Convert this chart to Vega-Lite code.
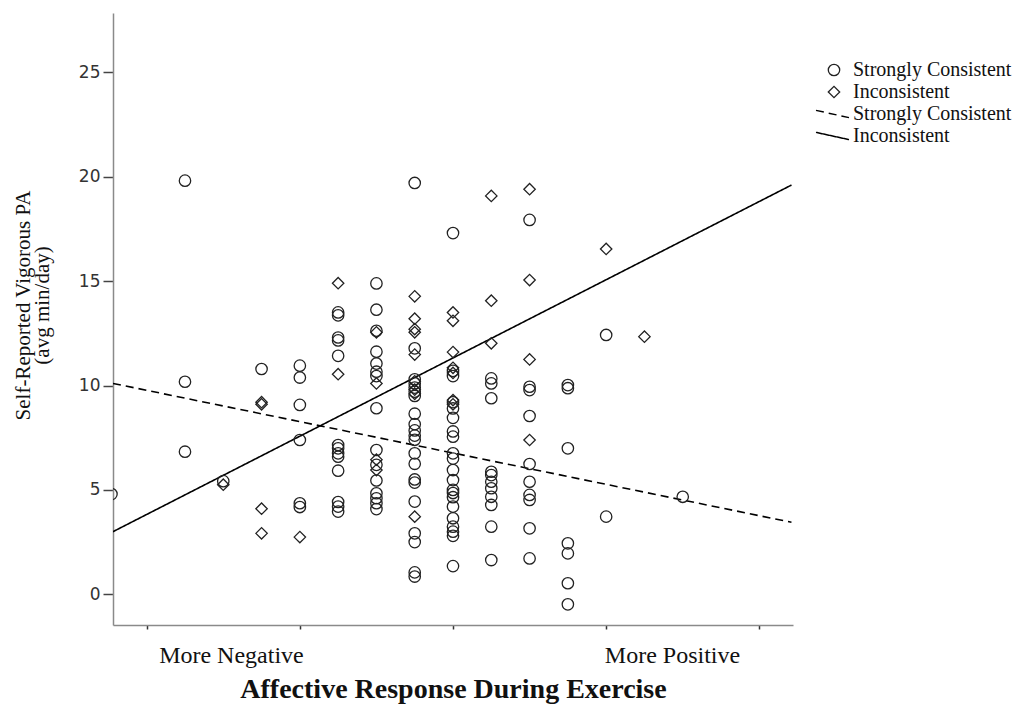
{
  "$schema": "https://vega.github.io/schema/vega-lite/v6.json",
  "width": 680,
  "height": 612,
  "autosize": {"type": "none"},
  "padding": {"left": 113, "top": 13, "right": 228, "bottom": 80},
  "background": "white",
  "config": {"view": {"stroke": null}, "axis": {"grid": false}},
  "datasets": {
    "fits": [
      {"x": -2.22, "y": 10.1, "fit": "Strongly Consistent"},
      {"x": 2.21, "y": 3.45, "fit": "Strongly Consistent"},
      {"x": -2.22, "y": 3.0, "fit": "Inconsistent"},
      {"x": 2.21, "y": 19.6, "fit": "Inconsistent"}
    ],
    "pts": [
      {"x": -2.23, "y": 4.8, "group": "Strongly Consistent"},
      {"x": -1.75, "y": 19.81, "group": "Strongly Consistent"},
      {"x": -1.75, "y": 10.18, "group": "Strongly Consistent"},
      {"x": -1.75, "y": 6.83, "group": "Strongly Consistent"},
      {"x": -1.5, "y": 5.42, "group": "Strongly Consistent"},
      {"x": -1.5, "y": 5.25, "group": "Inconsistent"},
      {"x": -1.25, "y": 10.79, "group": "Strongly Consistent"},
      {"x": -1.25, "y": 9.2, "group": "Inconsistent"},
      {"x": -1.25, "y": 9.1, "group": "Inconsistent"},
      {"x": -1.25, "y": 4.1, "group": "Inconsistent"},
      {"x": -1.25, "y": 2.92, "group": "Inconsistent"},
      {"x": -1.0, "y": 10.95, "group": "Strongly Consistent"},
      {"x": -1.0, "y": 10.38, "group": "Strongly Consistent"},
      {"x": -1.0, "y": 9.07, "group": "Strongly Consistent"},
      {"x": -1.0, "y": 7.39, "group": "Strongly Consistent"},
      {"x": -1.0, "y": 4.36, "group": "Strongly Consistent"},
      {"x": -1.0, "y": 4.18, "group": "Strongly Consistent"},
      {"x": -1.0, "y": 2.74, "group": "Inconsistent"},
      {"x": -0.75, "y": 14.9, "group": "Inconsistent"},
      {"x": -0.75, "y": 13.5, "group": "Strongly Consistent"},
      {"x": -0.75, "y": 13.36, "group": "Strongly Consistent"},
      {"x": -0.75, "y": 12.3, "group": "Strongly Consistent"},
      {"x": -0.75, "y": 12.16, "group": "Strongly Consistent"},
      {"x": -0.75, "y": 11.42, "group": "Strongly Consistent"},
      {"x": -0.75, "y": 10.54, "group": "Inconsistent"},
      {"x": -0.75, "y": 7.15, "group": "Strongly Consistent"},
      {"x": -0.75, "y": 6.99, "group": "Strongly Consistent"},
      {"x": -0.75, "y": 6.75, "group": "Strongly Consistent"},
      {"x": -0.75, "y": 6.59, "group": "Strongly Consistent"},
      {"x": -0.75, "y": 5.92, "group": "Strongly Consistent"},
      {"x": -0.75, "y": 4.42, "group": "Strongly Consistent"},
      {"x": -0.75, "y": 4.2, "group": "Strongly Consistent"},
      {"x": -0.75, "y": 3.96, "group": "Strongly Consistent"},
      {"x": -0.5, "y": 14.89, "group": "Strongly Consistent"},
      {"x": -0.5, "y": 13.63, "group": "Strongly Consistent"},
      {"x": -0.5, "y": 12.62, "group": "Strongly Consistent"},
      {"x": -0.5, "y": 12.55, "group": "Inconsistent"},
      {"x": -0.5, "y": 11.62, "group": "Strongly Consistent"},
      {"x": -0.5, "y": 11.05, "group": "Strongly Consistent"},
      {"x": -0.5, "y": 10.66, "group": "Strongly Consistent"},
      {"x": -0.5, "y": 10.45, "group": "Strongly Consistent"},
      {"x": -0.5, "y": 10.1, "group": "Inconsistent"},
      {"x": -0.5, "y": 8.91, "group": "Strongly Consistent"},
      {"x": -0.5, "y": 6.91, "group": "Strongly Consistent"},
      {"x": -0.5, "y": 6.45, "group": "Inconsistent"},
      {"x": -0.5, "y": 6.2, "group": "Strongly Consistent"},
      {"x": -0.5, "y": 5.95, "group": "Inconsistent"},
      {"x": -0.5, "y": 5.45, "group": "Strongly Consistent"},
      {"x": -0.5, "y": 4.84, "group": "Strongly Consistent"},
      {"x": -0.5, "y": 4.6, "group": "Strongly Consistent"},
      {"x": -0.5, "y": 4.36, "group": "Strongly Consistent"},
      {"x": -0.5, "y": 4.08, "group": "Strongly Consistent"},
      {"x": -0.25, "y": 19.7, "group": "Strongly Consistent"},
      {"x": -0.25, "y": 14.27, "group": "Inconsistent"},
      {"x": -0.25, "y": 13.2, "group": "Inconsistent"},
      {"x": -0.25, "y": 12.7, "group": "Inconsistent"},
      {"x": -0.25, "y": 12.55, "group": "Inconsistent"},
      {"x": -0.25, "y": 11.78, "group": "Strongly Consistent"},
      {"x": -0.25, "y": 11.48, "group": "Inconsistent"},
      {"x": -0.25, "y": 10.3, "group": "Strongly Consistent"},
      {"x": -0.25, "y": 10.2, "group": "Inconsistent"},
      {"x": -0.25, "y": 10.1, "group": "Strongly Consistent"},
      {"x": -0.25, "y": 9.9, "group": "Strongly Consistent"},
      {"x": -0.25, "y": 9.8, "group": "Inconsistent"},
      {"x": -0.25, "y": 9.7, "group": "Strongly Consistent"},
      {"x": -0.25, "y": 9.6, "group": "Inconsistent"},
      {"x": -0.25, "y": 9.5, "group": "Strongly Consistent"},
      {"x": -0.25, "y": 8.65, "group": "Strongly Consistent"},
      {"x": -0.25, "y": 8.15, "group": "Strongly Consistent"},
      {"x": -0.25, "y": 7.85, "group": "Strongly Consistent"},
      {"x": -0.25, "y": 7.6, "group": "Strongly Consistent"},
      {"x": -0.25, "y": 7.4, "group": "Strongly Consistent"},
      {"x": -0.25, "y": 6.75, "group": "Strongly Consistent"},
      {"x": -0.25, "y": 6.25, "group": "Strongly Consistent"},
      {"x": -0.25, "y": 5.5, "group": "Strongly Consistent"},
      {"x": -0.25, "y": 5.35, "group": "Strongly Consistent"},
      {"x": -0.25, "y": 4.44, "group": "Strongly Consistent"},
      {"x": -0.25, "y": 3.72, "group": "Inconsistent"},
      {"x": -0.25, "y": 2.92, "group": "Strongly Consistent"},
      {"x": -0.25, "y": 2.5, "group": "Strongly Consistent"},
      {"x": -0.25, "y": 1.05, "group": "Strongly Consistent"},
      {"x": -0.25, "y": 0.85, "group": "Strongly Consistent"},
      {"x": 0.0, "y": 17.3, "group": "Strongly Consistent"},
      {"x": 0.0, "y": 13.5, "group": "Inconsistent"},
      {"x": 0.0, "y": 13.1, "group": "Inconsistent"},
      {"x": 0.0, "y": 11.6, "group": "Inconsistent"},
      {"x": 0.0, "y": 10.85, "group": "Inconsistent"},
      {"x": 0.0, "y": 10.7, "group": "Strongly Consistent"},
      {"x": 0.0, "y": 10.6, "group": "Inconsistent"},
      {"x": 0.0, "y": 10.45, "group": "Strongly Consistent"},
      {"x": 0.0, "y": 9.3, "group": "Inconsistent"},
      {"x": 0.0, "y": 9.2, "group": "Strongly Consistent"},
      {"x": 0.0, "y": 9.1, "group": "Inconsistent"},
      {"x": 0.0, "y": 8.9, "group": "Strongly Consistent"},
      {"x": 0.0, "y": 8.45, "group": "Strongly Consistent"},
      {"x": 0.0, "y": 7.8, "group": "Strongly Consistent"},
      {"x": 0.0, "y": 7.55, "group": "Strongly Consistent"},
      {"x": 0.0, "y": 6.75, "group": "Strongly Consistent"},
      {"x": 0.0, "y": 6.5, "group": "Strongly Consistent"},
      {"x": 0.0, "y": 5.95, "group": "Strongly Consistent"},
      {"x": 0.0, "y": 5.47, "group": "Strongly Consistent"},
      {"x": 0.0, "y": 5.0, "group": "Strongly Consistent"},
      {"x": 0.0, "y": 4.85, "group": "Strongly Consistent"},
      {"x": 0.0, "y": 4.65, "group": "Strongly Consistent"},
      {"x": 0.0, "y": 4.2, "group": "Strongly Consistent"},
      {"x": 0.0, "y": 3.64, "group": "Strongly Consistent"},
      {"x": 0.0, "y": 3.24, "group": "Strongly Consistent"},
      {"x": 0.0, "y": 3.0, "group": "Strongly Consistent"},
      {"x": 0.0, "y": 2.8, "group": "Strongly Consistent"},
      {"x": 0.0, "y": 1.35, "group": "Strongly Consistent"},
      {"x": 0.25, "y": 19.08, "group": "Inconsistent"},
      {"x": 0.25, "y": 14.06, "group": "Inconsistent"},
      {"x": 0.25, "y": 12.02, "group": "Inconsistent"},
      {"x": 0.25, "y": 10.34, "group": "Strongly Consistent"},
      {"x": 0.25, "y": 10.1, "group": "Strongly Consistent"},
      {"x": 0.25, "y": 9.39, "group": "Strongly Consistent"},
      {"x": 0.25, "y": 5.87, "group": "Strongly Consistent"},
      {"x": 0.25, "y": 5.71, "group": "Strongly Consistent"},
      {"x": 0.25, "y": 5.39, "group": "Strongly Consistent"},
      {"x": 0.25, "y": 5.08, "group": "Strongly Consistent"},
      {"x": 0.25, "y": 4.67, "group": "Strongly Consistent"},
      {"x": 0.25, "y": 4.28, "group": "Strongly Consistent"},
      {"x": 0.25, "y": 3.24, "group": "Strongly Consistent"},
      {"x": 0.25, "y": 1.64, "group": "Strongly Consistent"},
      {"x": 0.5, "y": 19.4, "group": "Inconsistent"},
      {"x": 0.5, "y": 17.93, "group": "Strongly Consistent"},
      {"x": 0.5, "y": 15.05, "group": "Inconsistent"},
      {"x": 0.5, "y": 11.25, "group": "Inconsistent"},
      {"x": 0.5, "y": 9.94, "group": "Strongly Consistent"},
      {"x": 0.5, "y": 9.78, "group": "Strongly Consistent"},
      {"x": 0.5, "y": 8.54, "group": "Strongly Consistent"},
      {"x": 0.5, "y": 7.39, "group": "Inconsistent"},
      {"x": 0.5, "y": 6.24, "group": "Strongly Consistent"},
      {"x": 0.5, "y": 5.39, "group": "Strongly Consistent"},
      {"x": 0.5, "y": 4.76, "group": "Strongly Consistent"},
      {"x": 0.5, "y": 4.52, "group": "Strongly Consistent"},
      {"x": 0.5, "y": 3.16, "group": "Strongly Consistent"},
      {"x": 0.5, "y": 1.72, "group": "Strongly Consistent"},
      {"x": 0.75, "y": 10.02, "group": "Strongly Consistent"},
      {"x": 0.75, "y": 9.87, "group": "Strongly Consistent"},
      {"x": 0.75, "y": 6.99, "group": "Strongly Consistent"},
      {"x": 0.75, "y": 2.44, "group": "Strongly Consistent"},
      {"x": 0.75, "y": 1.96, "group": "Strongly Consistent"},
      {"x": 0.75, "y": 0.53, "group": "Strongly Consistent"},
      {"x": 0.75, "y": -0.48, "group": "Strongly Consistent"},
      {"x": 1.0, "y": 16.54, "group": "Inconsistent"},
      {"x": 1.0, "y": 12.42, "group": "Strongly Consistent"},
      {"x": 1.0, "y": 3.72, "group": "Strongly Consistent"},
      {"x": 1.25, "y": 12.34, "group": "Inconsistent"},
      {"x": 1.5, "y": 4.67, "group": "Strongly Consistent"}
    ]
  },
  "layer": [
    {
      "data": {"name": "fits"},
      "mark": {"type": "line", "color": "black", "strokeWidth": 1.6, "clip": true},
      "encoding": {
        "x": {
          "field": "x", "type": "quantitative",
          "scale": {"domain": [-2.22, 2.22], "nice": false, "zero": false},
          "axis": {
            "values": [-2, -1, 0, 1, 2, -1.45, 1.43],
            "labelExpr": "datum.value == -1.45 ? 'More Negative' : (datum.value == 1.43 ? 'More Positive' : '')",
            "tickOpacity": {"condition": {"test": "datum.value == -1.45 || datum.value == 1.43", "value": 0}, "value": 1},
            "tickSize": 4, "tickColor": "#333", "tickWidth": 1.5,
            "domainColor": "#8a8a8a", "domainWidth": 1.5,
            "labelFont": "Liberation Serif", "labelFontSize": 24, "labelColor": "#111",
            "labelBaseline": "top", "labelPadding": 14, "labelOverlap": false, "labelFlush": false, "labelBound": false,
            "title": "Affective Response During Exercise",
            "titleFont": "Liberation Serif", "titleFontSize": 28, "titleFontWeight": "bold", "titleColor": "#111",
            "titleBaseline": "alphabetic", "titleY": 72, "titleAnchor": "middle"
          }
        },
        "y": {
          "field": "y", "type": "quantitative",
          "scale": {"domain": [-1.47, 27.84], "nice": false, "zero": false},
          "axis": {
            "values": [0, 5, 10, 15, 20, 25],
            "tickSize": 10, "tickColor": "#444", "tickWidth": 1.5,
            "domainColor": "#8a8a8a", "domainWidth": 1.5,
            "labelFont": "DejaVu Sans", "labelFontSize": 17, "labelColor": "#333", "labelPadding": 3,
            "title": ["Self-Reported Vigorous PA", "(avg min/day)"],
            "titleFont": "Liberation Serif", "titleFontSize": 21, "titleFontWeight": "normal", "titleColor": "#111",
            "titleLineHeight": 19, "titleAngle": -90, "titleAlign": "center", "titleBaseline": "alphabetic",
            "titleX": -84, "titleY": 292
          }
        },
        "strokeDash": {
          "field": "fit", "type": "nominal",
          "sort": ["Strongly Consistent", "Inconsistent"],
          "scale": {"range": [[8, 5], [1, 0]]},
          "legend": {
            "title": null, "orient": "none", "legendX": 709.5, "legendY": 91, "padding": 0,
            "symbolType": "M-2,-0.44L2,0.44", "symbolSize": 272, "symbolStrokeWidth": 1.5, "symbolStrokeColor": "black",
            "labelFont": "Liberation Serif", "labelFontSize": 20, "labelColor": "#111", "labelOffset": 10.5, "rowPadding": 2
          }
        }
      }
    },
    {
      "data": {"name": "pts"},
      "mark": {"type": "point", "filled": false, "size": 130, "strokeWidth": 1.3, "color": "#222", "opacity": 1, "clip": true},
      "encoding": {
        "x": {"field": "x", "type": "quantitative"},
        "y": {"field": "y", "type": "quantitative"},
        "shape": {
          "field": "group", "type": "nominal",
          "scale": {"domain": ["Strongly Consistent", "Inconsistent"], "range": ["circle", "diamond"]},
          "legend": {
            "title": null, "orient": "none", "legendX": 711, "legendY": 47, "padding": 0,
            "symbolSize": 130, "symbolStrokeWidth": 1.3, "symbolStrokeColor": "#222",
            "labelFont": "Liberation Serif", "labelFontSize": 20, "labelColor": "#111", "labelOffset": 9, "rowPadding": 2
          }
        }
      }
    }
  ]
}
